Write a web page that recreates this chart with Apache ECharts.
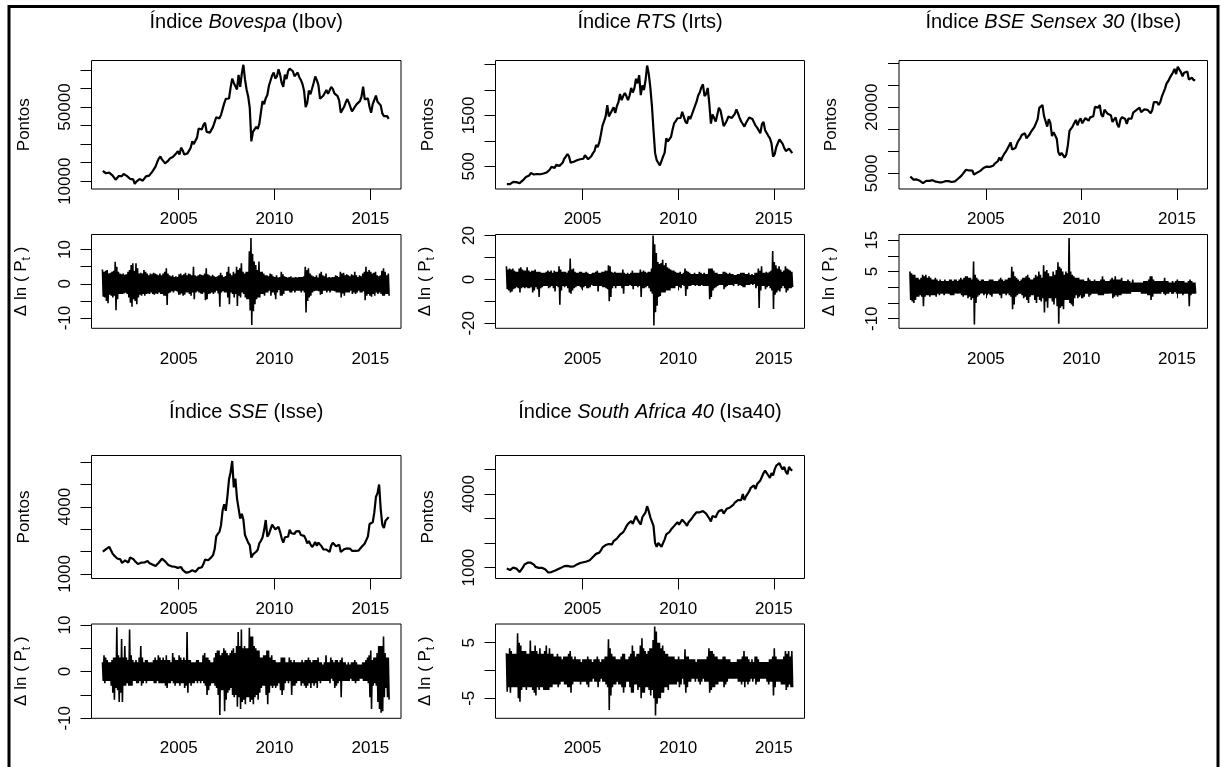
<!DOCTYPE html>
<html>
<head>
<meta charset="utf-8">
<script src="https://cdn.jsdelivr.net/npm/echarts/dist/echarts.min.js"></script>
<style>
  html, body { margin: 0; padding: 0; background: #fff; }
  #main { width: 1221px; height: 767px; }
</style>
</head>
<body>
<div id="main"></div>
<script>
// séries mensais, jan/2001 .. dez/2015 (uma linha por ano)
var startYear = 2001
var yearTicks = [2005, 2010, 2015]

var ibovPrice = [
  15500, 14900, 14300, 14900, 14600, 14200, 13200, 12800, 10800, 11000, 12800, 13600,
  12700, 13900, 13600, 12900, 12700, 11300, 10700, 11000, 8600, 9800, 10500, 11200,
  10900, 10300, 11300, 12600, 13400, 13000, 13600, 15200, 16000, 17900, 20200, 22200,
  23300, 21800, 22100, 19600, 19500, 21100, 22300, 22800, 23200, 23400, 25100, 26200,
  24400, 28100, 26600, 24400, 25200, 25000, 26000, 28000, 31600, 30000, 31900, 33500,
  38400, 38000, 37900, 40400, 41500, 36600, 37000, 36200, 36400, 39300, 41900, 44500,
  44600, 43900, 45800, 48900, 52000, 54400, 54400, 54600, 60500, 65300, 63000, 63900,
  59500, 67400, 60900, 67900, 72800, 65000, 59500, 55700, 49500, 31500, 36600, 37600,
  39300, 38200, 40900, 47300, 53200, 51500, 54800, 56500, 61500, 61500, 67000, 68600,
  65400, 66500, 70400, 67500, 63000, 60900, 67500, 65100, 69400, 70700, 71000, 69300,
  66600, 67400, 68600, 66100, 64600, 62400, 58800, 50000, 52300, 58900, 56900, 56800,
  63000, 66500, 64500, 61800, 54500, 54400, 56100, 57100, 59200, 57100, 57500, 60900,
  59800, 57400, 56400, 55900, 53500, 47000, 46500, 50000, 52300, 54300, 52500, 51500,
  47600, 47100, 50400, 51600, 51200, 53200, 55800, 61000, 54100, 54600, 54700, 50000,
  46900, 51600, 51200, 56200, 52800, 53100, 50900, 46600, 45100, 45900, 45100, 43600
]
var ibovHi = [
  4.2, 3.5, 3.8, 4.0, 3.0, 3.2, 3.5, 3.8, 6.4, 5.0, 3.5, 3.0,
  2.8, 3.0, 2.6, 2.8, 3.5, 4.0, 5.5, 6.0, 3.8, 6.0, 4.5, 3.0,
  3.2, 3.0, 4.0, 3.5, 3.0, 2.5, 3.0, 2.8, 3.2, 3.0, 2.8, 2.5,
  3.0, 2.5, 3.0, 3.5, 4.5, 3.0, 2.5, 2.2, 2.5, 2.0, 2.2, 2.0,
  2.8, 3.0, 2.5, 2.8, 3.2, 2.5, 3.0, 2.8, 2.5, 5.0, 2.5, 2.2,
  2.5, 2.8, 2.6, 2.5, 3.0, 4.5, 2.8, 2.5, 2.2, 2.6, 2.2, 2.0,
  2.2, 2.5, 3.2, 2.5, 2.0, 2.3, 3.5, 5.0, 3.0, 2.5, 3.5, 3.0,
  5.0, 4.0, 4.5, 6.0, 3.5, 3.0, 3.5, 3.5, 9.5, 13.4, 8.8, 6.5,
  5.5, 4.0, 6.5, 3.5, 3.5, 3.0, 2.5, 2.5, 2.2, 3.0, 2.8, 2.2,
  2.0, 2.5, 1.8, 2.0, 3.5, 2.8, 2.2, 2.0, 1.8, 2.0, 2.2, 1.8,
  1.8, 2.0, 1.8, 2.0, 2.0, 2.0, 2.2, 5.0, 4.0, 4.5, 3.0, 2.5,
  2.2, 2.0, 2.5, 1.8, 3.0, 3.5, 2.5, 2.2, 3.0, 1.8, 2.0, 1.8,
  2.0, 2.0, 2.5, 2.3, 2.0, 3.5, 3.0, 3.2, 2.5, 2.8, 2.5, 2.2,
  2.8, 2.5, 3.5, 2.5, 2.0, 2.5, 2.2, 3.0, 3.5, 5.0, 3.5, 4.0,
  3.5, 3.0, 3.2, 3.5, 2.5, 2.2, 2.5, 3.8, 4.5, 3.5, 2.5, 3.0
]
var ibovLo = [
  -3.8, -4.0, -5.0, -5.7, -3.2, -3.5, -4.0, -3.5, -7.7, -4.5, -3.0, -3.0,
  -3.0, -2.8, -2.6, -3.0, -4.0, -5.5, -6.7, -4.5, -5.0, -6.0, -4.0, -3.2,
  -3.5, -3.0, -3.5, -3.0, -2.8, -3.0, -2.5, -3.0, -3.2, -2.8, -3.0, -2.5,
  -3.0, -3.0, -3.5, -3.5, -6.2, -2.8, -2.5, -2.2, -2.5, -2.0, -2.2, -2.5,
  -3.2, -2.8, -3.5, -3.2, -2.5, -2.5, -3.0, -3.5, -2.5, -4.5, -2.5, -2.2,
  -2.5, -2.8, -3.0, -2.5, -4.8, -4.5, -3.0, -2.8, -2.5, -3.0, -2.5, -2.0,
  -2.8, -6.7, -2.5, -2.2, -2.5, -2.5, -4.0, -6.0, -2.5, -3.0, -4.0, -3.0,
  -6.5, -3.5, -4.0, -2.5, -3.0, -4.0, -4.5, -4.5, -7.8, -12.0, -8.0, -6.0,
  -4.5, -4.0, -4.0, -3.0, -3.0, -3.5, -2.5, -2.5, -2.0, -3.5, -2.5, -2.5,
  -4.5, -2.5, -1.8, -3.5, -3.5, -3.0, -2.0, -2.0, -2.0, -2.5, -2.5, -2.0,
  -2.5, -2.0, -2.0, -2.0, -2.5, -2.0, -2.5, -8.4, -5.0, -4.0, -3.5, -2.5,
  -2.2, -2.0, -2.0, -2.2, -3.2, -3.0, -2.0, -2.0, -2.5, -2.0, -2.5, -2.0,
  -2.0, -2.2, -2.5, -2.5, -2.5, -4.0, -2.8, -3.5, -2.5, -2.5, -2.5, -2.0,
  -3.0, -2.5, -3.0, -2.5, -2.0, -2.5, -2.5, -2.2, -4.8, -3.5, -3.0, -3.5,
  -3.8, -3.0, -3.5, -2.5, -3.0, -2.5, -3.0, -3.5, -3.5, -3.0, -3.0, -3.5
]

var rtsPrice = [
  150, 160, 150, 170, 195, 190, 190, 195, 170, 200, 225, 260,
  290, 290, 320, 370, 390, 340, 340, 350, 335, 345, 350, 360,
  380, 380, 400, 440, 490, 510, 470, 530, 550, 510, 520, 570,
  650, 690, 740, 700, 570, 600, 590, 560, 620, 630, 640, 615,
  650, 720, 690, 640, 650, 700, 760, 800, 920, 880, 970, 1125,
  1300, 1390, 1480, 1700, 1480, 1480, 1600, 1660, 1550, 1680, 1760, 1920,
  1800, 1880, 1940, 1880, 1800, 1890, 2040, 1950, 2030, 2220, 2130, 2290,
  1900, 2090, 2000, 2190, 2480, 2320, 2050, 1690, 1210, 760, 620, 630,
  520, 540, 690, 770, 1050, 990, 960, 1080, 1230, 1350, 1390, 1445,
  1470, 1450, 1570, 1570, 1380, 1340, 1480, 1430, 1510, 1600, 1620, 1770,
  1890, 1950, 2050, 2110, 1880, 1920, 2040, 1730, 1340, 1520, 1510, 1380,
  1520, 1650, 1600, 1610, 1290, 1340, 1400, 1480, 1500, 1450, 1440, 1530,
  1620, 1540, 1450, 1380, 1360, 1280, 1350, 1320, 1460, 1490, 1430, 1440,
  1300, 1260, 1230, 1150, 1330, 1370, 1210, 1210, 1100, 1050, 950, 690,
  740, 880, 880, 1030, 1010, 940, 860, 800, 780, 850, 850, 760
]
var rtsHi = [
  6.0, 4.5, 5.0, 4.5, 5.0, 4.0, 3.5, 3.5, 5.0, 5.5, 4.5, 4.0,
  4.0, 5.5, 4.0, 3.5, 4.0, 4.0, 4.5, 3.5, 3.5, 3.5, 3.0, 3.0,
  3.0, 3.5, 4.0, 3.5, 4.0, 3.0, 4.0, 3.5, 3.5, 6.0, 4.5, 3.5,
  3.5, 3.5, 3.0, 4.0, 9.5, 4.5, 5.0, 3.5, 3.0, 3.0, 3.5, 3.5,
  3.0, 3.0, 3.5, 3.0, 2.5, 2.5, 3.0, 3.0, 3.5, 4.0, 3.0, 3.0,
  3.5, 3.5, 4.0, 4.0, 6.5, 6.0, 3.5, 3.0, 3.5, 3.0, 3.0, 3.0,
  3.0, 4.5, 3.0, 2.5, 3.0, 2.5, 3.0, 4.0, 3.0, 3.0, 3.0, 3.0,
  4.5, 3.5, 4.0, 3.5, 3.0, 3.5, 3.5, 5.0, 20.0, 16.0, 12.0, 8.0,
  7.0, 7.5, 9.0, 6.5, 7.5, 5.5, 5.0, 4.5, 4.0, 4.0, 3.5, 3.0,
  3.0, 3.5, 2.5, 3.0, 5.0, 4.0, 3.5, 3.0, 2.5, 2.5, 3.0, 2.5,
  2.5, 3.5, 3.0, 2.5, 3.0, 2.5, 2.5, 5.0, 5.0, 5.0, 4.0, 3.0,
  3.0, 2.5, 2.5, 2.5, 3.5, 3.5, 3.0, 2.5, 3.0, 2.5, 2.5, 2.0,
  2.0, 2.5, 2.5, 3.0, 3.0, 3.0, 2.5, 2.5, 3.0, 2.0, 2.5, 2.0,
  3.0, 3.0, 5.0, 4.0, 6.0, 3.0, 3.0, 3.5, 3.0, 3.5, 4.0, 13.0,
  8.0, 6.5, 5.0, 6.0, 4.5, 3.5, 4.0, 6.0, 5.0, 4.5, 4.0, 3.5
]
var rtsLo = [
  -4.5, -5.0, -6.0, -5.5, -4.5, -4.0, -3.5, -4.0, -6.0, -4.0, -3.5, -4.0,
  -3.5, -4.0, -4.0, -3.5, -6.0, -5.0, -3.5, -4.5, -8.0, -4.0, -3.5, -3.0,
  -3.0, -3.0, -4.0, -3.5, -3.0, -4.0, -5.5, -3.0, -3.5, -11.5, -5.0, -3.0,
  -3.5, -3.0, -4.0, -6.0, -6.5, -5.0, -4.0, -3.5, -3.0, -3.0, -3.5, -4.5,
  -3.5, -3.0, -4.0, -4.0, -3.5, -2.5, -3.0, -3.0, -3.0, -5.5, -3.0, -3.0,
  -3.5, -3.5, -4.0, -4.5, -10.0, -8.0, -4.0, -3.0, -4.0, -3.0, -3.0, -3.0,
  -4.0, -6.5, -3.0, -3.0, -3.0, -2.5, -3.0, -4.5, -3.0, -3.0, -3.5, -3.0,
  -8.0, -4.0, -4.0, -3.5, -3.0, -4.0, -5.5, -6.5, -21.0, -15.0, -12.0, -8.0,
  -7.5, -6.0, -6.0, -6.0, -5.0, -5.0, -5.0, -4.0, -4.0, -4.0, -3.0, -3.0,
  -3.5, -4.0, -2.5, -3.0, -7.5, -4.5, -3.0, -3.0, -2.5, -2.5, -3.0, -2.5,
  -3.0, -3.0, -2.5, -3.0, -3.0, -3.0, -3.0, -9.0, -8.0, -5.0, -4.0, -3.5,
  -3.0, -2.5, -2.5, -2.5, -4.5, -3.5, -3.0, -2.5, -2.5, -2.5, -3.0, -2.0,
  -2.0, -3.0, -2.5, -3.0, -3.5, -3.5, -2.5, -2.5, -2.5, -2.0, -2.5, -2.0,
  -4.0, -3.0, -13.0, -5.0, -3.0, -3.0, -4.5, -3.5, -3.0, -4.0, -5.0, -13.5,
  -7.0, -6.0, -5.0, -5.5, -4.0, -3.0, -4.0, -6.0, -5.0, -4.0, -4.0, -3.5
]

var bsePrice = [
  4300, 4250, 3600, 3520, 3630, 3460, 3330, 3320, 2810, 3000, 3290, 3260,
  3310, 3560, 3470, 3340, 3130, 3240, 2990, 3180, 2990, 2950, 3230, 3380,
  3250, 3280, 3050, 2960, 3180, 3610, 3790, 4240, 4450, 4910, 5040, 5840,
  5700, 5670, 5590, 5650, 4760, 4800, 5170, 5190, 5580, 5670, 6230, 6600,
  6550, 6710, 6490, 6150, 6720, 7190, 7640, 7800, 8630, 7890, 8790, 9400,
  9920, 10370, 11280, 12040, 10400, 10610, 10740, 11700, 12450, 12960, 13700, 13790,
  14090, 12940, 13070, 13870, 14540, 14650, 15550, 15320, 17290, 19840, 19400, 20500,
  18000, 17600, 15600, 17290, 16420, 13460, 14360, 14560, 12860, 9790, 9090, 9650,
  9420, 8600, 9300, 11400, 14630, 14490, 15670, 15670, 17130, 15900, 16930, 17460,
  16360, 16430, 17530, 17560, 16940, 17700, 17870, 17970, 20070, 20500, 19900, 20510,
  18330, 17820, 19450, 19140, 18500, 18850, 18200, 16680, 16450, 17700, 16120, 15450,
  17190, 17750, 17400, 17320, 16220, 17430, 17240, 17430, 18760, 18500, 19340, 19430,
  19890, 18860, 18840, 19500, 19760, 19400, 19350, 18620, 19380, 21160, 20790, 21170,
  20510, 21120, 22390, 22420, 24220, 25410, 25890, 26640, 26630, 27870, 28690, 27500,
  29180, 29360, 27960, 27010, 27830, 27780, 28110, 26280, 26150, 26660, 26150, 26120
]
var bseHi = [
  5.0, 4.5, 4.0, 4.0, 3.0, 3.0, 2.5, 3.0, 4.0, 3.5, 4.0, 3.0,
  3.5, 3.0, 2.5, 2.5, 3.0, 2.5, 2.0, 2.5, 2.0, 2.0, 2.5, 2.0,
  2.0, 2.5, 2.5, 2.0, 2.5, 2.5, 2.0, 2.5, 3.0, 2.5, 3.0, 3.5,
  3.5, 3.0, 3.0, 2.5, 8.2, 4.0, 3.0, 2.5, 2.0, 2.5, 2.5, 2.0,
  2.0, 2.0, 2.5, 2.5, 2.5, 2.0, 2.0, 2.0, 2.5, 3.0, 2.5, 2.0,
  2.5, 2.5, 3.0, 3.0, 6.5, 5.0, 3.5, 3.0, 2.5, 2.0, 2.5, 3.0,
  3.0, 3.5, 4.0, 3.0, 2.5, 2.5, 3.0, 4.0, 3.5, 5.0, 4.0, 3.0,
  7.0, 5.0, 5.5, 4.5, 3.5, 3.5, 5.0, 4.0, 5.5, 8.0, 6.5, 6.0,
  5.0, 4.0, 5.0, 4.5, 15.7, 5.0, 4.0, 3.5, 3.0, 3.0, 3.0, 2.5,
  2.5, 2.5, 2.0, 2.0, 3.0, 2.5, 2.0, 2.0, 2.5, 2.0, 2.0, 2.0,
  2.5, 3.5, 2.5, 2.0, 2.0, 2.0, 2.5, 3.0, 2.5, 3.5, 2.5, 2.5,
  2.5, 3.0, 2.0, 2.0, 2.0, 2.5, 2.0, 1.5, 2.5, 1.5, 1.5, 1.5,
  1.5, 1.5, 1.5, 2.0, 2.0, 2.0, 2.5, 3.5, 3.5, 2.5, 2.0, 2.0,
  2.0, 2.0, 2.0, 2.0, 3.0, 2.0, 2.0, 1.5, 1.5, 2.0, 1.5, 2.0,
  2.5, 2.0, 2.0, 2.0, 2.0, 1.5, 1.5, 2.0, 2.5, 2.0, 1.5, 1.5
]
var bseLo = [
  -4.0, -4.5, -5.0, -4.0, -3.0, -3.0, -2.5, -3.0, -6.0, -3.0, -2.5, -2.5,
  -3.0, -2.5, -2.5, -2.5, -3.0, -2.0, -2.5, -2.0, -2.0, -2.5, -2.0, -2.0,
  -2.0, -2.5, -2.5, -2.5, -2.0, -2.0, -2.0, -2.0, -2.5, -3.0, -2.5, -2.5,
  -3.5, -3.0, -4.0, -3.5, -11.8, -5.0, -3.0, -2.5, -2.0, -2.0, -2.5, -2.0,
  -2.5, -2.0, -2.5, -3.0, -2.0, -2.0, -2.0, -2.0, -2.5, -3.5, -2.0, -2.0,
  -2.5, -2.0, -2.5, -3.0, -7.0, -5.5, -3.0, -2.5, -2.0, -2.0, -2.5, -3.5,
  -3.0, -4.0, -5.0, -3.0, -2.5, -2.5, -4.0, -5.0, -3.0, -4.0, -4.5, -3.5,
  -8.0, -4.5, -6.5, -3.5, -3.5, -4.5, -5.5, -3.5, -6.0, -11.6, -6.5, -6.0,
  -7.0, -4.0, -4.0, -4.0, -5.0, -5.5, -6.0, -3.5, -2.5, -3.5, -3.0, -2.5,
  -3.5, -3.0, -2.0, -2.0, -3.0, -2.5, -2.0, -2.0, -2.0, -2.0, -2.5, -2.5,
  -2.5, -2.5, -2.0, -2.0, -2.0, -2.0, -2.0, -3.5, -3.0, -2.5, -3.0, -2.5,
  -2.5, -2.0, -2.0, -2.0, -2.0, -2.0, -2.0, -1.5, -1.5, -1.5, -1.5, -1.5,
  -1.5, -2.0, -2.0, -2.0, -2.0, -2.5, -2.5, -4.0, -3.0, -2.0, -2.0, -2.0,
  -2.0, -2.0, -1.5, -2.0, -2.5, -2.0, -2.0, -1.5, -2.0, -2.0, -1.5, -2.0,
  -2.0, -2.0, -2.0, -2.5, -2.0, -2.0, -2.0, -6.0, -2.5, -2.0, -2.0, -2.0
]

var ssePrice = [
  2000, 1960, 2110, 2120, 2210, 2220, 1920, 1830, 1760, 1690, 1750, 1650,
  1490, 1520, 1600, 1620, 1510, 1730, 1650, 1670, 1580, 1510, 1440, 1360,
  1500, 1510, 1510, 1520, 1580, 1490, 1480, 1420, 1370, 1350, 1400, 1500,
  1590, 1680, 1740, 1560, 1560, 1400, 1390, 1340, 1400, 1320, 1340, 1270,
  1190, 1310, 1180, 1160, 1060, 1080, 1080, 1160, 1160, 1090, 1100, 1160,
  1260, 1300, 1300, 1440, 1640, 1670, 1610, 1660, 1750, 1840, 2100, 2680,
  2790, 2880, 3180, 3840, 4110, 3820, 4470, 5220, 5550, 6050, 4870, 5260,
  4380, 4350, 3470, 3690, 3430, 2740, 2780, 2400, 2290, 1730, 1870, 1820,
  1990, 2080, 2370, 2480, 2630, 2960, 3410, 2670, 2780, 2990, 3200, 3280,
  2990, 3050, 3110, 2870, 2590, 2400, 2640, 2640, 2660, 2980, 2820, 2810,
  2790, 2900, 2930, 2910, 2740, 2760, 2700, 2570, 2360, 2470, 2330, 2200,
  2290, 2430, 2260, 2400, 2370, 2230, 2100, 2050, 2090, 2070, 1980, 2270,
  2390, 2360, 2240, 2180, 2300, 1980, 1990, 2100, 2170, 2140, 2220, 2120,
  2030, 2060, 2030, 2030, 2040, 2050, 2200, 2220, 2360, 2420, 2680, 3230,
  3210, 3310, 3750, 4440, 4610, 5000, 3900, 3200, 3050, 3380, 3450, 3540
]
var sseHi = [
  2.0, 3.5, 3.0, 2.5, 2.0, 2.0, 2.5, 3.0, 3.0, 9.5, 3.5, 3.0,
  7.0, 3.0, 5.5, 3.0, 2.5, 9.0, 3.5, 2.5, 2.0, 2.5, 2.0, 3.0,
  5.5, 3.0, 2.0, 2.5, 2.5, 2.0, 2.0, 2.0, 2.5, 3.0, 2.5, 3.5,
  3.0, 2.5, 3.0, 2.5, 3.5, 2.5, 2.5, 2.0, 4.0, 3.0, 2.5, 2.5,
  3.5, 3.0, 2.5, 3.0, 2.5, 8.5, 2.5, 2.5, 2.0, 2.0, 2.0, 2.5,
  2.5, 2.0, 2.0, 3.5, 4.0, 3.0, 3.0, 2.5, 2.0, 2.0, 3.0, 4.0,
  4.5, 4.5, 3.5, 4.0, 5.0, 4.5, 4.0, 3.5, 4.0, 4.5, 5.0, 4.0,
  5.5, 8.5, 5.5, 9.0, 5.0, 5.5, 5.0, 5.0, 9.4, 7.5, 7.5, 5.5,
  5.0, 4.5, 4.5, 3.0, 3.0, 3.5, 3.5, 4.5, 4.5, 3.0, 3.5, 2.5,
  2.5, 2.0, 2.0, 2.0, 3.0, 3.0, 3.0, 2.0, 2.0, 3.0, 2.5, 2.0,
  2.5, 2.0, 2.0, 2.0, 2.0, 2.5, 2.0, 2.5, 2.5, 3.0, 2.5, 2.0,
  2.5, 2.5, 2.5, 3.0, 2.0, 2.0, 1.5, 2.0, 3.5, 2.0, 2.0, 3.0,
  2.5, 2.0, 2.5, 2.5, 2.0, 2.5, 3.0, 2.0, 2.0, 1.5, 2.0, 1.5,
  2.0, 2.0, 2.5, 2.0, 1.5, 1.5, 1.5, 2.0, 2.0, 2.5, 3.0, 3.5,
  4.5, 2.5, 3.0, 3.0, 4.0, 5.5, 5.5, 5.5, 7.5, 4.0, 3.0, 3.0
]
var sseLo = [
  -2.0, -2.5, -2.0, -2.0, -2.0, -3.0, -4.5, -6.0, -3.5, -4.0, -6.5, -4.5,
  -6.5, -3.0, -3.0, -2.5, -3.0, -3.0, -3.0, -2.0, -2.0, -2.5, -2.5, -2.0,
  -3.0, -2.5, -2.0, -2.5, -2.0, -2.0, -2.0, -2.0, -2.5, -2.5, -2.0, -2.5,
  -2.5, -2.5, -2.5, -3.0, -3.5, -2.5, -2.5, -2.0, -2.5, -3.0, -2.5, -2.5,
  -3.0, -2.5, -2.5, -3.5, -3.0, -4.5, -2.5, -3.0, -2.5, -2.5, -2.0, -2.5,
  -2.0, -2.5, -2.0, -2.5, -3.0, -5.0, -4.0, -3.0, -2.5, -2.5, -3.0, -3.5,
  -5.0, -9.3, -4.0, -4.0, -8.5, -6.0, -4.5, -4.0, -3.5, -5.0, -5.5, -5.0,
  -7.5, -5.5, -8.0, -6.5, -6.0, -7.0, -5.5, -5.5, -6.5, -6.0, -7.0, -5.5,
  -5.0, -6.0, -4.5, -3.5, -3.0, -3.0, -5.0, -7.0, -4.5, -3.0, -3.5, -3.0,
  -3.5, -3.0, -2.5, -4.0, -5.0, -4.0, -2.5, -2.0, -2.5, -2.0, -5.0, -3.0,
  -3.0, -2.5, -2.0, -2.0, -3.0, -2.5, -3.0, -3.5, -3.0, -2.5, -3.5, -2.5,
  -3.0, -2.5, -3.5, -2.0, -2.5, -2.0, -2.0, -2.0, -2.0, -2.0, -2.5, -1.5,
  -2.0, -3.5, -3.0, -2.5, -2.0, -5.5, -2.0, -2.0, -2.0, -2.0, -2.0, -1.5,
  -2.0, -2.0, -2.5, -2.0, -2.0, -1.5, -1.5, -2.0, -2.0, -2.0, -2.5, -5.5,
  -8.0, -3.0, -2.5, -3.0, -6.5, -8.0, -8.8, -8.5, -5.5, -3.5, -5.5, -6.0
]

var sa40Price = [
  960, 950, 900, 950, 1000, 980, 960, 930, 820, 880, 1000, 1120,
  1180, 1200, 1220, 1200, 1190, 1120, 1030, 1020, 990, 1000, 990, 960,
  930, 860, 800, 780, 820, 850, 870, 900, 930, 960, 990, 1030,
  1060, 1080, 1070, 1050, 1040, 1060, 1050, 1080, 1130, 1150, 1190, 1210,
  1220, 1260, 1250, 1230, 1300, 1370, 1430, 1470, 1560, 1520, 1610, 1700,
  1820, 1850, 1920, 2000, 1960, 1900, 1950, 2080, 2100, 2180, 2260, 2340,
  2380, 2440, 2550, 2680, 2780, 2800, 2900, 2780, 2950, 3100, 2950, 2900,
  2750, 3050, 3000, 3250, 3500, 3300, 3050, 3000, 2700, 2000, 1850, 2000,
  1950, 1850, 2000, 2150, 2350, 2300, 2450, 2550, 2600, 2700, 2750, 2850,
  2750, 2800, 2950, 2980, 2800, 2700, 2850, 2800, 3000, 3100, 3150, 3250,
  3200, 3250, 3250, 3300, 3250, 3200, 3150, 3000, 2880, 3100, 3050, 3050,
  3200, 3300, 3300, 3350, 3200, 3300, 3400, 3450, 3450, 3500, 3550, 3650,
  3700, 3750, 3800, 3750, 4000, 3750, 3900, 4000, 4100, 4250, 4300, 4350,
  4200, 4400, 4450, 4550, 4700, 4850, 4950, 4950, 4750, 4650, 4850, 4750,
  5000, 5150, 5150, 5250, 5100, 5000, 5100, 4900, 4800, 5100, 5000, 4950
]
var sa40Hi = [
  3.1, 3.0, 4.0, 3.5, 3.0, 3.0, 3.0, 6.7, 5.0, 4.5, 3.5, 3.5,
  3.5, 3.0, 3.0, 5.4, 3.5, 3.5, 4.5, 3.5, 3.0, 4.0, 3.0, 3.0,
  3.5, 4.5, 3.0, 4.0, 3.0, 3.0, 2.5, 2.5, 3.0, 2.5, 2.5, 2.0,
  2.5, 2.5, 2.5, 3.0, 3.5, 2.5, 2.0, 2.5, 2.0, 2.0, 2.0, 1.5,
  2.0, 2.0, 2.0, 2.5, 2.0, 2.0, 1.5, 2.0, 2.0, 2.5, 2.0, 1.5,
  2.0, 2.0, 2.5, 2.5, 5.6, 4.0, 3.0, 2.5, 2.5, 2.0, 2.0, 2.0,
  2.5, 3.0, 3.0, 2.0, 2.0, 2.5, 3.0, 4.5, 3.5, 2.5, 3.0, 3.0,
  4.5, 5.8, 4.0, 3.5, 3.0, 3.5, 4.0, 4.0, 5.5, 7.9, 7.0, 5.0,
  5.0, 4.0, 4.5, 3.5, 3.0, 3.0, 2.5, 2.5, 2.5, 2.5, 2.0, 2.0,
  2.5, 2.0, 2.0, 2.0, 3.8, 2.5, 2.5, 2.0, 2.0, 2.0, 2.0, 1.5,
  2.0, 2.0, 2.0, 2.0, 2.0, 2.0, 2.5, 4.0, 3.5, 3.5, 3.0, 2.5,
  2.5, 2.0, 2.0, 2.0, 2.5, 2.5, 2.0, 2.0, 2.0, 1.5, 1.5, 1.5,
  1.5, 2.0, 2.0, 2.0, 2.5, 3.5, 2.5, 2.5, 2.0, 1.5, 2.0, 1.5,
  2.5, 2.5, 2.0, 1.5, 1.5, 1.5, 1.5, 1.5, 1.5, 2.0, 2.0, 2.5,
  4.0, 2.5, 2.0, 2.0, 2.0, 2.0, 2.5, 3.5, 3.0, 3.5, 2.5, 3.5
]
var sa40Lo = [
  -3.8, -3.0, -4.0, -3.0, -3.0, -3.0, -3.0, -5.0, -5.6, -3.5, -3.0, -3.0,
  -3.5, -3.0, -3.0, -3.0, -3.5, -4.0, -4.5, -3.0, -3.5, -3.0, -3.0, -3.5,
  -3.5, -3.5, -3.5, -3.0, -3.0, -2.5, -2.5, -2.5, -3.0, -2.5, -2.0, -2.0,
  -2.5, -2.5, -3.0, -3.0, -4.0, -2.5, -2.0, -2.0, -2.0, -2.0, -2.5, -2.0,
  -2.0, -2.0, -2.5, -3.0, -2.0, -2.0, -1.5, -2.0, -2.0, -3.0, -2.0, -1.5,
  -2.0, -2.0, -2.5, -3.0, -7.1, -4.5, -3.0, -2.5, -2.5, -2.0, -2.5, -2.5,
  -3.0, -4.0, -3.0, -2.0, -2.0, -3.0, -4.0, -4.0, -2.5, -2.5, -3.5, -3.0,
  -5.0, -4.0, -4.0, -3.0, -3.0, -3.5, -4.5, -3.5, -5.0, -8.1, -6.0, -5.0,
  -5.0, -4.0, -4.0, -3.0, -3.0, -3.5, -2.5, -2.5, -2.5, -2.5, -2.5, -2.0,
  -3.0, -2.5, -1.5, -2.5, -4.0, -3.0, -2.0, -2.0, -1.5, -1.5, -2.0, -1.5,
  -2.0, -2.5, -2.0, -1.5, -2.0, -2.0, -2.0, -4.0, -3.5, -3.0, -3.0, -2.5,
  -2.5, -2.0, -2.0, -2.0, -3.0, -2.5, -2.0, -1.5, -1.5, -1.5, -1.5, -1.5,
  -1.5, -2.0, -2.0, -2.5, -2.0, -3.0, -2.0, -2.5, -2.0, -1.5, -2.0, -1.5,
  -2.5, -2.0, -2.0, -1.5, -1.5, -1.5, -1.5, -2.0, -2.5, -2.0, -2.0, -4.5,
  -3.0, -2.0, -2.0, -2.0, -2.5, -2.5, -2.5, -3.5, -3.0, -2.5, -3.0, -3.0
]

// marcas e rótulos dos eixos y
var ibovTicks = [10000, 20000, 30000, 40000, 50000, 60000, 70000]
var ibovLabels = [10000, 50000]
var rtsTicks = [500, 1000, 1500, 2000, 2500]
var rtsLabels = [500, 1500]
var bseTicks = [5000, 10000, 15000, 20000, 25000, 30000]
var bseLabels = [5000, 20000]
var sseTicks = [1000, 2000, 3000, 4000, 5000, 6000]
var sseLabels = [1000, 4000]
var sa40Ticks = [1000, 2000, 3000, 4000, 5000]
var sa40Labels = [1000, 4000]
var ret10Ticks = [-10, -5, 0, 5, 10]
var ret10Labels = [-10, 0, 10]
var ret20Ticks = [-20, -10, 0, 10, 20]
var ret20Labels = [-20, 0, 20]
var bseRetTicks = [-10, -5, 0, 5, 10, 15]
var bseRetLabels = [-10, 5, 15]
var sa40RetTicks = [-5, 0, 5]
var sa40RetLabels = [-5, 5]

var FONT = '"Liberation Sans", Arial, sans-serif'

function monthX(i) {
  return startYear + (i + 0.5) / 12
}
function priceData(arr) {
  return arr.map(function (v, i) { return [monthX(i), v] })
}
// retornos: máximo e mínimo de cada mês, em zigue-zague
function retData(hi, lo) {
  var pts = []
  hi.forEach(function (h, i) {
    pts.push([monthX(i) - 1 / 48, h], [monthX(i) + 1 / 48, lo[i]])
  })
  return pts
}

var rows = [
  { titleY: 22.5, pTop: 60.5, pH: 128.5, pMargin: 22, rTop: 234.5, rH: 93.8, rMargin: 23 },
  { titleY: 412.5, pTop: 455.5, pH: 123, pMargin: 22, rTop: 624, rH: 94.3, rMargin: 22 }
]

var panels = [
  { title: 'Índice {i|Bovespa} (Ibov)', row: 0, left: 91.5, width: 309.5,
    price: ibovPrice, hi: ibovHi, lo: ibovLo,
    pMin: 5800, pMax: 75100, pTicks: ibovTicks, pLabels: ibovLabels,
    rMin: -13.0, rMax: 14.4, rTicks: ret10Ticks, rLabels: ret10Labels },
  { title: 'Índice {i|RTS} (Irts)', row: 0, left: 495.5, width: 309,
    price: rtsPrice, hi: rtsHi, lo: rtsLo,
    pMin: 56, pMax: 2578, pTicks: rtsTicks, pLabels: rtsLabels,
    rMin: -22.3, rMax: 20.5, rTicks: ret20Ticks, rLabels: ret20Labels },
  { title: 'Índice {i|BSE Sensex 30} (Ibse)', row: 0, left: 899, width: 308.5,
    price: bsePrice, hi: bseHi, lo: bseLo,
    pMin: 1467, pMax: 30589, pTicks: bseTicks, pLabels: bseLabels,
    rMin: -13.05, rMax: 16.8, rTicks: bseRetTicks, rLabels: bseRetLabels },
  { title: 'Índice {i|SSE} (Isse)', row: 1, left: 91.5, width: 309.5,
    price: ssePrice, hi: sseHi, lo: sseLo,
    pMin: 794, pMax: 6296, pTicks: sseTicks, pLabels: sseLabels,
    rMin: -10.0, rMax: 10.2, rTicks: ret10Ticks, rLabels: ret10Labels },
  { title: 'Índice {i|South Africa 40} (Isa40)', row: 1, left: 495.5, width: 309,
    price: sa40Price, hi: sa40Hi, lo: sa40Lo,
    pMin: 557, pMax: 5564, pTicks: sa40Ticks, pLabels: sa40Labels,
    rMin: -8.6, rMax: 8.36, rTicks: sa40RetTicks, rLabels: sa40RetLabels }
]

var grids = [], xAxes = [], yAxes = [], series = []
var graphics = []

function addPlot(left, top, width, height, xMargin, yMin, yMax, ticks, labels, name, data, lw) {
  var k = grids.length
  grids.push({
    left: left, top: top, width: width, height: height,
    show: true, borderColor: '#000', borderWidth: 1, backgroundColor: 'transparent'
  })
  xAxes.push({
    type: 'value', gridIndex: k, min: 2000.45, max: 2016.6,
    axisLine: { show: false }, splitLine: { show: false },
    axisTick: { show: true, length: 11, customValues: yearTicks, lineStyle: { color: '#000', width: 1 } },
    axisLabel: { customValues: yearTicks, margin: xMargin, fontSize: 17, color: '#000', fontFamily: FONT,
      formatter: function (v) { return String(v) } }
  })
  yAxes.push({
    type: 'value', gridIndex: k, min: yMin, max: yMax,
    axisLine: { show: false }, splitLine: { show: false },
    axisTick: { show: true, length: 11, customValues: ticks, lineStyle: { color: '#000', width: 1 } },
    axisLabel: { customValues: labels, rotate: 90, margin: 18, fontSize: 17, color: '#000', fontFamily: FONT,
      formatter: function (v) { return String(v) } },
    name: name, nameLocation: 'middle', nameRotate: 90, nameGap: 59,
    nameTextStyle: {
      fontSize: 17, color: '#000', fontFamily: FONT,
      rich: {
        n: { fontSize: 17, color: '#000', fontFamily: FONT, lineHeight: 22 },
        s: { fontSize: 12, color: '#000', fontFamily: FONT, lineHeight: 12, verticalAlign: 'bottom' }
      }
    }
  })
  series.push({
    type: 'line', xAxisIndex: k, yAxisIndex: k, data: data,
    showSymbol: false, symbol: 'none', clip: true,
    lineStyle: { color: '#000', width: lw }
  })
}

panels.forEach(function (p) {
  var r = rows[p.row]
  addPlot(p.left, r.pTop, p.width, r.pH, r.pMargin, p.pMin, p.pMax, p.pTicks, p.pLabels,
    'Pontos', priceData(p.price), 2.2)
  addPlot(p.left, r.rTop, p.width, r.rH, r.rMargin, p.rMin, p.rMax, p.rTicks, p.rLabels,
    '{n|Δ ln ( P}{s|t}{n| )}', retData(p.hi, p.lo), 1.6)
  graphics.push({
    type: 'text', x: p.left + p.width / 2, y: r.titleY,
    style: {
      text: p.title, fill: '#000', fontSize: 20, fontFamily: FONT,
      align: 'center', verticalAlign: 'middle',
      rich: { i: { fontStyle: 'italic', fontSize: 20, fontFamily: FONT, fill: '#000' } }
    }
  })
})

// moldura da figura
graphics.push({
  type: 'rect', shape: { x: 9, y: 6.5, width: 1209, height: 800 },
  style: { fill: 'none', stroke: '#000', lineWidth: 3 }
})

var myChart = echarts.init(document.getElementById('main'))
myChart.setOption({
  animation: false,
  backgroundColor: '#fff',
  grid: grids,
  xAxis: xAxes,
  yAxis: yAxes,
  series: series,
  graphic: graphics
})
</script>
</body>
</html>
